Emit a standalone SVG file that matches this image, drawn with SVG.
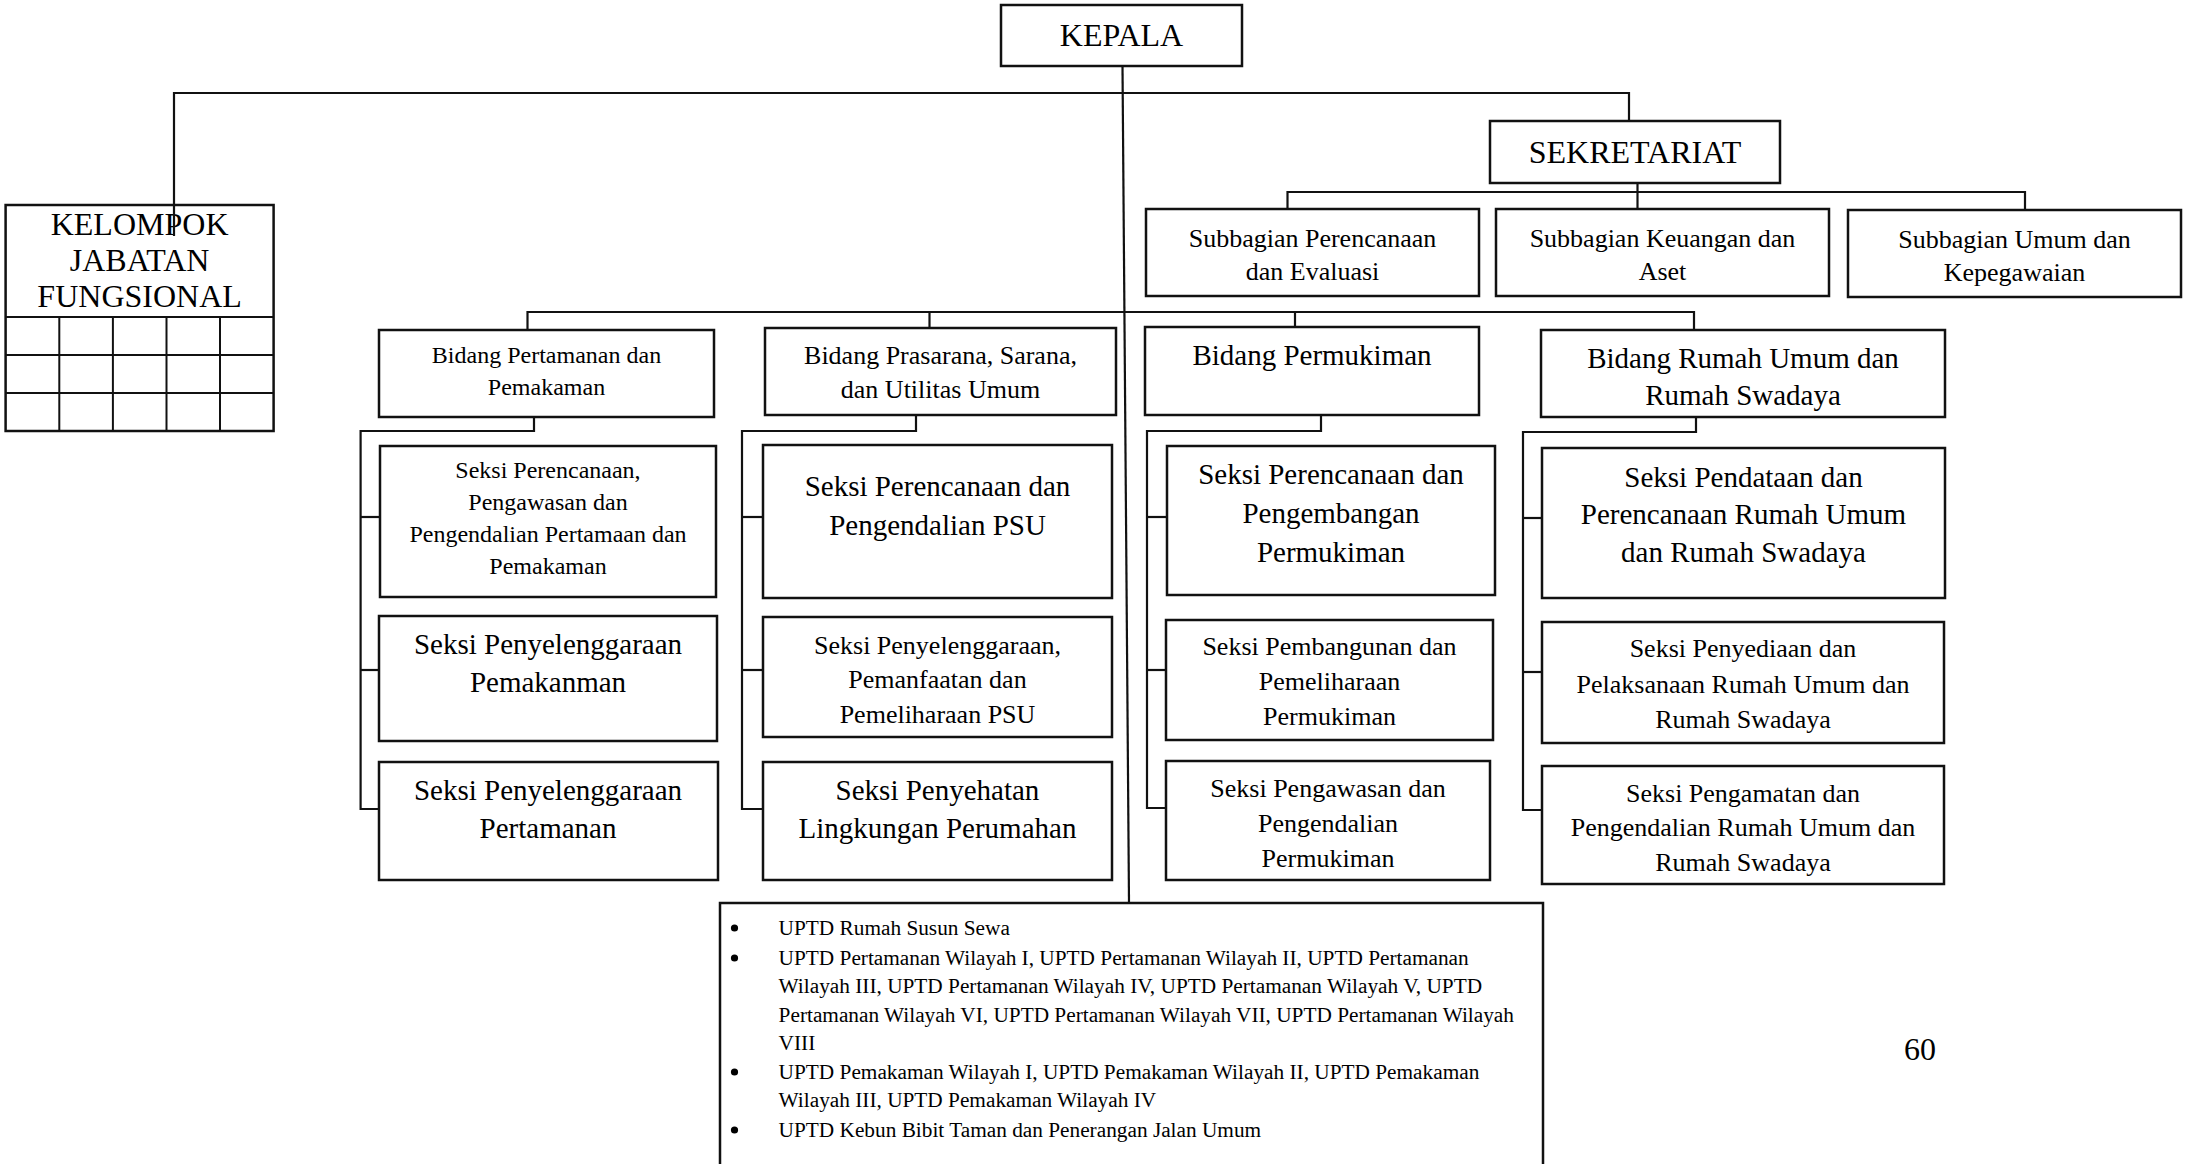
<svg xmlns="http://www.w3.org/2000/svg" width="2188" height="1164" viewBox="0 0 2188 1164">
<style>
rect.b{fill:#fff;stroke:#111;stroke-width:2.5}
.c line,.c polyline{stroke:#111;stroke-width:2.2;fill:none}
text{font-family:"Liberation Serif","Times New Roman",serif;fill:#000;text-anchor:middle}
.f32{font-size:32px}.f29{font-size:29px}.f26{font-size:26px}.f24{font-size:24px}
.li{font-size:21.3px;text-anchor:start}
.g line{stroke:#111;stroke-width:2}
</style>
<rect width="2188" height="1164" fill="#fff"/>

<g id="kepala"><rect class="b" x="1001" y="5" width="241" height="61"/><text class="f32" x="1121.5" y="46">KEPALA</text></g>

<g id="sekretariat"><rect class="b" x="1490" y="121" width="290" height="62"/><text class="f32" x="1635" y="163">SEKRETARIAT</text></g>

<g id="subbagian-perencanaan"><rect class="b" x="1146" y="209" width="333" height="87"/><text class="f26" x="1312.5" y="247">Subbagian Perencanaan</text><text class="f26" x="1312.5" y="280">dan Evaluasi</text></g>
<g id="subbagian-keuangan"><rect class="b" x="1496" y="209" width="333" height="87"/><text class="f26" x="1662.5" y="247">Subbagian Keuangan dan</text><text class="f26" x="1662.5" y="280">Aset</text></g>
<g id="subbagian-umum"><rect class="b" x="1848" y="210" width="333" height="87"/><text class="f26" x="2014.5" y="248">Subbagian Umum dan</text><text class="f26" x="2014.5" y="281">Kepegawaian</text></g>

<g id="kelompok" class="g"><rect class="b" x="5.6" y="205" width="268" height="226"/>
<line x1="5.6" y1="317" x2="273.6" y2="317"/><line x1="5.6" y1="355" x2="273.6" y2="355"/><line x1="5.6" y1="393" x2="273.6" y2="393"/>
<line x1="59.3" y1="317" x2="59.3" y2="431"/><line x1="112.9" y1="317" x2="112.9" y2="431"/><line x1="166.5" y1="317" x2="166.5" y2="431"/><line x1="220" y1="317" x2="220" y2="431"/>
<text class="f32" x="139.6" y="235">KELOMPOK</text><text class="f32" x="139.6" y="271">JABATAN</text><text class="f32" x="139.6" y="307">FUNGSIONAL</text></g>

<g id="bidang-pertamanan"><rect class="b" x="379" y="330" width="335" height="87"/><text class="f24" x="546.5" y="363">Bidang Pertamanan dan</text><text class="f24" x="546.5" y="395">Pemakaman</text></g>
<g id="bidang-prasarana"><rect class="b" x="765" y="328" width="351" height="87"/><text class="f26" x="940.5" y="364">Bidang Prasarana, Sarana,</text><text class="f26" x="940.5" y="398">dan Utilitas Umum</text></g>
<g id="bidang-permukiman"><rect class="b" x="1145" y="327" width="334" height="88"/><text class="f29" x="1312" y="365">Bidang Permukiman</text></g>
<g id="bidang-rumah"><rect class="b" x="1541" y="330" width="404" height="87"/><text class="f29" x="1743" y="368">Bidang Rumah Umum dan</text><text class="f29" x="1743" y="405">Rumah Swadaya</text></g>

<g id="seksi-1-1"><rect class="b" x="380" y="446" width="336" height="151"/><text class="f24" x="548" y="478">Seksi Perencanaan,</text><text class="f24" x="548" y="510">Pengawasan dan</text><text class="f24" x="548" y="542">Pengendalian Pertamaan dan</text><text class="f24" x="548" y="574">Pemakaman</text></g>
<g id="seksi-1-2"><rect class="b" x="379" y="616" width="338" height="125"/><text class="f29" x="548" y="654">Seksi Penyelenggaraan</text><text class="f29" x="548" y="692">Pemakanman</text></g>
<g id="seksi-1-3"><rect class="b" x="379" y="762" width="339" height="118"/><text class="f29" x="548" y="800">Seksi Penyelenggaraan</text><text class="f29" x="548" y="838">Pertamanan</text></g>

<g id="seksi-2-1"><rect class="b" x="763" y="445" width="349" height="153"/><text class="f29" x="937.5" y="496">Seksi Perencanaan dan</text><text class="f29" x="937.5" y="535">Pengendalian PSU</text></g>
<g id="seksi-2-2"><rect class="b" x="763" y="617" width="349" height="120"/><text class="f26" x="937.5" y="654">Seksi Penyelenggaraan,</text><text class="f26" x="937.5" y="688">Pemanfaatan dan</text><text class="f26" x="937.5" y="723">Pemeliharaan PSU</text></g>
<g id="seksi-2-3"><rect class="b" x="763" y="762" width="349" height="118"/><text class="f29" x="937.5" y="800">Seksi Penyehatan</text><text class="f29" x="937.5" y="838">Lingkungan Perumahan</text></g>

<g id="seksi-3-1"><rect class="b" x="1167" y="446" width="328" height="149"/><text class="f29" x="1331" y="484">Seksi Perencanaan dan</text><text class="f29" x="1331" y="523">Pengembangan</text><text class="f29" x="1331" y="562">Permukiman</text></g>
<g id="seksi-3-2"><rect class="b" x="1166" y="620" width="327" height="120"/><text class="f26" x="1329.5" y="655">Seksi Pembangunan dan</text><text class="f26" x="1329.5" y="690">Pemeliharaan</text><text class="f26" x="1329.5" y="725">Permukiman</text></g>
<g id="seksi-3-3"><rect class="b" x="1166" y="761" width="324" height="119"/><text class="f26" x="1328" y="797">Seksi Pengawasan dan</text><text class="f26" x="1328" y="832">Pengendalian</text><text class="f26" x="1328" y="867">Permukiman</text></g>

<g id="seksi-4-1"><rect class="b" x="1542" y="448" width="403" height="150"/><text class="f29" x="1743.5" y="487">Seksi Pendataan dan</text><text class="f29" x="1743.5" y="524">Perencanaan Rumah Umum</text><text class="f29" x="1743.5" y="562">dan Rumah Swadaya</text></g>
<g id="seksi-4-2"><rect class="b" x="1542" y="622" width="402" height="121"/><text class="f26" x="1743" y="657">Seksi Penyediaan dan</text><text class="f26" x="1743" y="693">Pelaksanaan Rumah Umum dan</text><text class="f26" x="1743" y="728">Rumah Swadaya</text></g>
<g id="seksi-4-3"><rect class="b" x="1542" y="766" width="402" height="118"/><text class="f26" x="1743" y="802">Seksi Pengamatan dan</text><text class="f26" x="1743" y="836">Pengendalian Rumah Umum dan</text><text class="f26" x="1743" y="871">Rumah Swadaya</text></g>

<g id="uptd"><rect class="b" x="720" y="903" width="823" height="290"/>
<g fill="#000"><circle cx="734.5" cy="928" r="3.6"/><circle cx="734.5" cy="958" r="3.6"/><circle cx="734.5" cy="1072" r="3.6"/><circle cx="734.5" cy="1130" r="3.6"/></g>
<text class="li" x="778.6" y="935">UPTD Rumah Susun Sewa</text>
<text class="li" x="778.6" y="965">UPTD Pertamanan Wilayah I, UPTD Pertamanan Wilayah II, UPTD Pertamanan</text>
<text class="li" x="778.6" y="993">Wilayah III, UPTD Pertamanan Wilayah IV, UPTD Pertamanan Wilayah V, UPTD</text>
<text class="li" x="778.6" y="1022">Pertamanan Wilayah VI, UPTD Pertamanan Wilayah VII, UPTD Pertamanan Wilayah</text>
<text class="li" x="778.6" y="1050">VIII</text>
<text class="li" x="778.6" y="1079">UPTD Pemakaman Wilayah I, UPTD Pemakaman Wilayah II, UPTD Pemakaman</text>
<text class="li" x="778.6" y="1107">Wilayah III, UPTD Pemakaman Wilayah IV</text>
<text class="li" x="778.6" y="1137">UPTD Kebun Bibit Taman dan Penerangan Jalan Umum</text>
</g>

<text class="f32" x="1920" y="1060">60</text>

<g id="connectors" class="c">
<line x1="1122.5" y1="66" x2="1129" y2="903"/>
<polyline points="174,236 174,93 1629,93 1629,121"/>
<line x1="1637.5" y1="183" x2="1637.5" y2="209"/>
<polyline points="1287.5,209 1287.5,192 2025,192 2025,210"/>
<polyline points="527.5,330 527.5,312 1694,312 1694,330"/>
<line x1="929.5" y1="312" x2="929.5" y2="328"/>
<line x1="1295" y1="312" x2="1295" y2="327"/>
<polyline points="534,417 534,431 360.6,431 360.6,809 379,809"/>
<line x1="360.6" y1="517" x2="380" y2="517"/><line x1="360.6" y1="670" x2="379" y2="670"/>
<polyline points="916,415 916,431 742,431 742,809 763,809"/>
<line x1="742" y1="517" x2="763" y2="517"/><line x1="742" y1="670" x2="763" y2="670"/>
<polyline points="1321,415 1321,431 1147,431 1147,808 1166,808"/>
<line x1="1147" y1="517" x2="1167" y2="517"/><line x1="1147" y1="670" x2="1166" y2="670"/>
<polyline points="1696,417 1696,432 1523,432 1523,810 1542,810"/>
<line x1="1523" y1="518" x2="1542" y2="518"/><line x1="1523" y1="672" x2="1542" y2="672"/>
</g>
</svg>
